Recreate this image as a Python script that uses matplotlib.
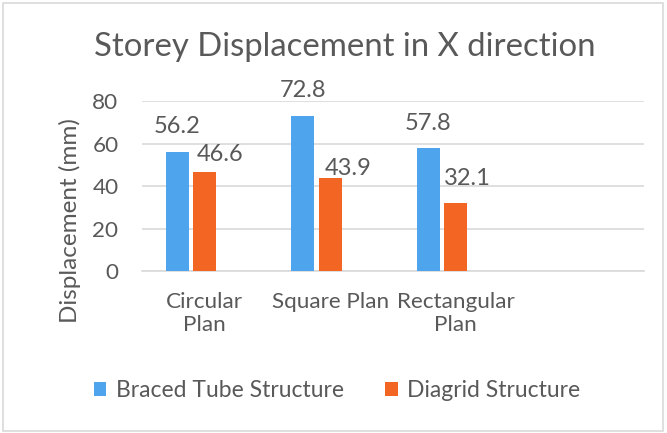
import matplotlib.pyplot as plt
from matplotlib.patches import Rectangle

# dados
categorias = ["Circular\nPlan", "Square Plan", "Rectangular\nPlan"]
braced = [56.2, 72.8, 57.8]
diagrid = [46.6, 43.9, 32.1]
series_nomes = ["Braced Tube Structure", "Diagrid Structure"]
y_ticks = [0, 20, 40, 60, 80]

# deslocamento (px) dos rótulos de dados em relação ao topo da barra
desloc_azul = [(0, 19), (0, 19), (0, 18)]
desloc_lar = [(15, 11), (18, 3), (12, 18)]

cor_azul = "#4EA5EE"
cor_laranja = "#F26522"
cor_texto = "#595959"
cor_grade = "#D9D9D9"

plt.rcParams['font.family'] = ['Lato', 'DejaVu Sans']

fig = plt.figure(figsize=(6.67, 4.33), dpi=100)
fig.patches.append(Rectangle((0.004, 0.004), 0.99, 0.99, transform=fig.transFigure,
                             fill=False, edgecolor=cor_grade, linewidth=1.2))
ax = fig.add_axes([0.2129, 0.3741, 0.7526, 0.3926])

x = list(range(len(categorias)))
largura = 0.18
passo = 0.219
x_azul = [i - passo for i in x]
x_lar = [i for i in x]

b1 = ax.bar(x_azul, braced, width=largura, color=cor_azul, label=series_nomes[0], zorder=3)
b2 = ax.bar(x_lar, diagrid, width=largura, color=cor_laranja, label=series_nomes[1], zorder=3)

# rótulos de dados
for xi, v, d in zip(x_azul, braced, desloc_azul):
    ax.annotate(f"{v}", (xi, v), xytext=d, textcoords='offset pixels',
                ha='center', va='baseline', fontsize=17, color=cor_texto, zorder=4)
for xi, v, d in zip(x_lar, diagrid, desloc_lar):
    ax.annotate(f"{v}", (xi, v), xytext=d, textcoords='offset pixels',
                ha='center', va='baseline', fontsize=17, color=cor_texto, zorder=4)

ax.set_xlim(-0.5, 3.5)
ax.set_ylim(0, 80)
ax.set_yticks(y_ticks)
ax.set_xticks(x)
ax.set_xticklabels(categorias)
ax.tick_params(axis='both', length=0, labelsize=16.2, colors=cor_texto)
ax.tick_params(axis='x', pad=15)
ax.tick_params(axis='y', pad=17)
ax.grid(axis='y', color=cor_grade, linewidth=1.2, zorder=0)
for lado in ['top', 'right', 'left']:
    ax.spines[lado].set_visible(False)
ax.spines['bottom'].set_color(cor_grade)
ax.spines['bottom'].set_linewidth(1.2)

fig.text(70 / 667, 1 - 221 / 433, "Displacement (mm)", rotation=90, ha='center', va='center',
         fontsize=17.5, color=cor_texto)
fig.text(0.517, 0.892, "Storey Displacement in X direction", ha='center', va='center',
         fontsize=23.7, color=cor_texto)

fig.legend(handles=[b1, b2], labels=series_nomes, loc='center', bbox_to_anchor=(0.505, 0.098),
           ncol=2, frameon=False, fontsize=16.5, labelcolor=cor_texto,
           handlelength=0.55, handleheight=0.55, handletextpad=0.4, columnspacing=1.8)

plt.savefig("out.png", dpi=100)
